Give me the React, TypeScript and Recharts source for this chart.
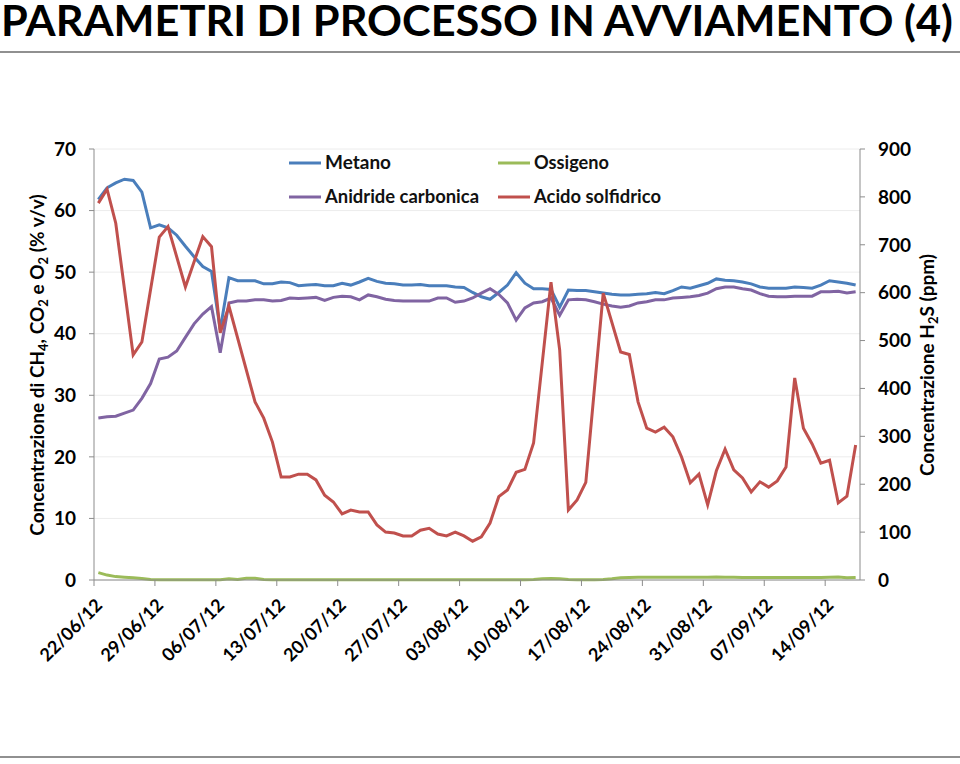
import React from 'react';
import { LineChart, Line, XAxis, YAxis, CartesianGrid } from 'recharts';

// Daily samples from 22/06/12 (index 0) to 17/09/12 (index 87)
const METANO = [
  61.8, 63.7, 64.5, 65.1, 64.9, 63.0, 57.2, 57.7, 57.2, 56.0,
  54.2, 52.5, 50.9, 50.1, 40.7, 49.1, 48.6, 48.6, 48.6, 48.1,
  48.1, 48.4, 48.3, 47.8, 47.9, 48.0, 47.8, 47.8, 48.2, 47.9,
  48.4, 49.0, 48.5, 48.2, 48.1, 47.9, 47.9, 48.0, 47.8, 47.8,
  47.8, 47.6, 47.5, 46.7, 46.0, 45.6, 46.7, 47.9, 49.9, 48.2,
  47.3, 47.3, 47.2, 44.3, 47.1, 47.0, 47.0, 46.8, 46.6, 46.4,
  46.3, 46.3, 46.4, 46.5, 46.7, 46.5, 47.0, 47.6, 47.4, 47.8,
  48.2, 48.9, 48.7, 48.6, 48.4, 48.1, 47.6, 47.4, 47.4, 47.4,
  47.6, 47.5, 47.4, 47.9, 48.6, 48.4, 48.2, 47.9,
];

const ANIDRIDE = [
  26.3, 26.5, 26.6, 27.1, 27.6, 29.5, 31.9, 35.9, 36.2, 37.2,
  39.4, 41.6, 43.2, 44.4, 36.9, 45.0, 45.3, 45.3, 45.5, 45.5,
  45.3, 45.4, 45.8, 45.7, 45.8, 45.9, 45.4, 45.9, 46.1, 46.0,
  45.5, 46.3, 46.0, 45.6, 45.4, 45.3, 45.3, 45.3, 45.3, 45.8,
  45.8, 45.1, 45.3, 45.8, 46.6, 47.3, 46.4, 45.0, 42.2, 44.2,
  45.0, 45.2, 45.8, 43.0, 45.5, 45.6, 45.5, 45.2, 44.8, 44.5,
  44.3, 44.5, 45.0, 45.2, 45.5, 45.5, 45.8, 45.9, 46.0, 46.2,
  46.6, 47.3, 47.6, 47.6, 47.3, 47.1, 46.5, 46.1, 46.0, 46.0,
  46.1, 46.1, 46.1, 46.8, 46.8, 46.9, 46.6, 46.8,
];

const OSSIGENO = [
  1.2, 0.8, 0.55, 0.45, 0.35, 0.25, 0.1, 0.05, 0.05, 0.05,
  0.05, 0.05, 0.05, 0.05, 0.05, 0.2, 0.1, 0.3, 0.3, 0.1,
  0.05, 0.05, 0.05, 0.05, 0.05, 0.05, 0.05, 0.05, 0.05, 0.05,
  0.05, 0.05, 0.05, 0.05, 0.05, 0.05, 0.05, 0.05, 0.05, 0.05,
  0.05, 0.05, 0.05, 0.05, 0.05, 0.05, 0.05, 0.05, 0.05, 0.05,
  0.1, 0.2, 0.25, 0.2, 0.1, 0.05, 0.05, 0.05, 0.1, 0.2,
  0.35, 0.4, 0.45, 0.45, 0.45, 0.45, 0.45, 0.45, 0.45, 0.45,
  0.45, 0.5, 0.45, 0.45, 0.4, 0.4, 0.4, 0.4, 0.4, 0.4,
  0.4, 0.4, 0.4, 0.4, 0.45, 0.5, 0.35, 0.4,
];

const ACIDO_SOLFIDRICO: (number | null)[] = [
  787, 816, 745, null, 470, 497, null, 716, 738, null,
  612, null, 717, 696, 516, 572, null, null, 372, 338,
  288, 215, 215, 221, 221, 209, 177, 163, 138, 146,
  142, 142, 115, 100, 98, 92, 92, 104, 108, 96,
  92, 100, 92, 81, 90, 119, 174, 188, 225, 231,
  286, null, 622, 480, 146, 167, 204, null, 599, null,
  476, 471, 372, 317, 309, 319, 299, 257, 203, 221,
  157, 228, 273, 230, 213, 184, 205, 194, 207, 236,
  422, 317, 284, 244, 250, 161, 175, 282,
];

const TICK_DAYS = [0, 7, 14, 21, 28, 35, 42, 49, 56, 63, 70, 77, 84];
const TICK_LABELS = [
  '22/06/12', '29/06/12', '06/07/12', '13/07/12', '20/07/12', '27/07/12', '03/08/12',
  '10/08/12', '17/08/12', '24/08/12', '31/08/12', '07/09/12', '14/09/12',
];
const LEFT_TICKS = [0, 10, 20, 30, 40, 50, 60, 70];
const RIGHT_TICKS = [0, 100, 200, 300, 400, 500, 600, 700, 800, 900];

const SERIES = [
  { key: 'metano', name: 'Metano', color: '#4A7EBB', axis: 'left' },
  { key: 'ossigeno', name: 'Ossigeno', color: '#9BBB59', axis: 'left' },
  { key: 'anidride', name: 'Anidride carbonica', color: '#8064A2', axis: 'left' },
  { key: 'acido', name: 'Acido solfidrico', color: '#C0504D', axis: 'right' },
];

const DATA = METANO.map((v, i) => ({
  x: i + 0.5,
  metano: v,
  ossigeno: OSSIGENO[i],
  anidride: ANIDRIDE[i],
  acido: ACIDO_SOLFIDRICO[i],
}));

const FONT = 'Lato, "Open Sans", sans-serif';
const AXIS_GRAY = '#8C8C8C';

const XTick = (props: any) => {
  const { x, y, payload } = props;
  const idx = TICK_DAYS.indexOf(payload.value);
  const label = idx >= 0 ? TICK_LABELS[idx] : '';
  return (
    <g transform={`translate(${x + 5},${y + 14}) rotate(-45)`}>
      <text
        textAnchor="end"
        dy="0.35em"
        fill="#000"
        fontFamily={FONT}
        fontWeight={700}
        fontSize={18}
      >
        {label}
      </text>
    </g>
  );
};

const LEGEND_ITEMS = [
  { s: SERIES[0], x: 289, y: 163, w: 66 },
  { s: SERIES[1], x: 498, y: 163, w: 75 },
  { s: SERIES[2], x: 289, y: 197, w: 154 },
  { s: SERIES[3], x: 498, y: 197, w: 127 },
];

export default function App() {
  return (
    <div style={{ position: 'absolute', left: 0, top: 0, width: 960, height: 764, background: '#fff' }}>
      <div style={{ position: 'absolute', left: 0, top: 0 }}>
        <LineChart
          width={960}
          height={764}
          data={DATA}
          margin={{ top: 149, right: 0, bottom: 0, left: 0 }}
        >
          <CartesianGrid yAxisId="left" vertical={false} stroke="#ECECEC" strokeWidth={1} />
          <XAxis
            dataKey="x"
            type="number"
            domain={[0, 88]}
            ticks={TICK_DAYS}
            interval={0}
            height={184}
            tick={<XTick />}
            tickSize={6}
            tickLine={{ stroke: AXIS_GRAY }}
            axisLine={{ stroke: AXIS_GRAY }}
            allowDataOverflow
          />
          <YAxis
            yAxisId="left"
            orientation="left"
            width={94}
            domain={[0, 70]}
            ticks={LEFT_TICKS}
            interval={0}
            tickSize={5}
            tickMargin={13}
            tickLine={{ stroke: AXIS_GRAY }}
            axisLine={{ stroke: AXIS_GRAY }}
            tick={{ fill: '#000', fontSize: 19, fontWeight: 700, fontFamily: FONT }}
          />
          <YAxis
            yAxisId="right"
            orientation="right"
            width={100}
            domain={[0, 900]}
            ticks={RIGHT_TICKS}
            interval={0}
            tickSize={5}
            tickMargin={13}
            tickLine={{ stroke: AXIS_GRAY }}
            axisLine={{ stroke: AXIS_GRAY }}
            tick={{ fill: '#000', fontSize: 19, fontWeight: 700, fontFamily: FONT }}
          />
          {SERIES.map((s) => (
            <Line
              key={s.key}
              yAxisId={s.axis}
              dataKey={s.key}
              name={s.name}
              type="linear"
              stroke={s.color}
              strokeWidth={3}
              dot={false}
              activeDot={false}
              connectNulls
              isAnimationActive={false}
            />
          ))}
        </LineChart>
      </div>
      <svg width={960} height={764} style={{ position: 'absolute', left: 0, top: 0, pointerEvents: 'none' }}>
        <text
          x={1}
          y={36}
          fontFamily={FONT}
          fontWeight={700}
          fontSize={42}
          fill="#000"
          textLength={952}
          lengthAdjust="spacingAndGlyphs"
        >
          PARAMETRI DI PROCESSO IN AVVIAMENTO (4)
        </text>
        <line x1={0} x2={960} y1={52} y2={52} stroke="#6b6b6b" strokeWidth={1.5} />
        <line x1={0} x2={960} y1={757} y2={757} stroke="#6b6b6b" strokeWidth={1.5} />
        <text
          transform="translate(44,365) rotate(-90)"
          textAnchor="middle"
          fontFamily={FONT}
          fontWeight={700}
          fontSize={19}
          fill="#000"
        >
          Concentrazione di CH
          <tspan fontSize={13} dy={4}>4</tspan>
          <tspan dy={-4}>, CO</tspan>
          <tspan fontSize={13} dy={4}>2</tspan>
          <tspan dy={-4}> e O</tspan>
          <tspan fontSize={13} dy={4}>2</tspan>
          <tspan dy={-4}> (% v/v)</tspan>
        </text>
        <text
          transform="translate(934,365) rotate(-90)"
          textAnchor="middle"
          fontFamily={FONT}
          fontWeight={700}
          fontSize={19}
          fill="#000"
        >
          Concentrazione H
          <tspan fontSize={13} dy={4}>2</tspan>
          <tspan dy={-4}>S (ppm)</tspan>
        </text>
        {LEGEND_ITEMS.map((it) => (
          <g key={it.s.key}>
            <line x1={it.x} x2={it.x + 32} y1={it.y} y2={it.y} stroke={it.s.color} strokeWidth={3} />
            <text
              x={it.x + 36}
              y={it.y}
              dy="0.35em"
              fontFamily={FONT}
              fontWeight={700}
              fontSize={18}
              fill="#111"
              textLength={it.w}
              lengthAdjust="spacingAndGlyphs"
            >
              {it.s.name}
            </text>
          </g>
        ))}
      </svg>
    </div>
  );
}
